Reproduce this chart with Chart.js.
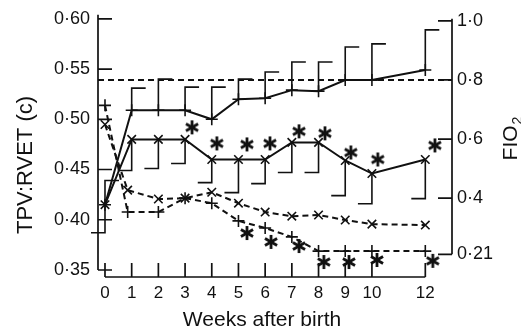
<!DOCTYPE html>
<html lang="en">
<head>
<meta charset="UTF-8" />
<title>TPV:RVET and FiO2 after birth</title>
<style>
  * { margin: 0; padding: 0; box-sizing: border-box; }
  body { background: white; }
  .chartBox { width: 521px; height: 330px; }
</style>
</head>
<body>
<div class="chartBox"><canvas id="myChart" width="521" height="330"></canvas></div>
<script src="https://cdn.jsdelivr.net/npm/chart.js"></script>
<script>
// weeks after birth
const weeks = [0, 1, 2, 3, 4, 5, 6, 7, 8, 9, 10, 12];
// TPV:RVET, solid lines (left axis)
const tpvPlus = [0.415, 0.509, 0.509, 0.509, 0.500, 0.520, 0.521, 0.529, 0.528, 0.539, 0.539, 0.549];
const tpvPlusErr = [0.439, 0.531, 0.540, 0.532, 0.532, 0.540, 0.547, 0.557, 0.557, 0.572, 0.575, 0.589];
const tpvCross = [0.415, 0.480, 0.480, 0.480, 0.460, 0.460, 0.460, 0.477, 0.477, 0.459, 0.446, 0.460];
const tpvCrossErr = [0.387, 0.449, 0.451, 0.456, 0.437, 0.427, 0.436, 0.447, 0.447, 0.424, 0.416, 0.421];
// FiO2, dashed lines (right axis)
const fioWeeks = [0, 0.85, 2, 3, 4, 5, 6, 7, 8, 9, 10, 12];
const fioPlus = [0.714, 0.353, 0.353, 0.400, 0.383, 0.323, 0.299, 0.269, 0.221, 0.221, 0.221, 0.221];
const fioCross = [0.649, 0.427, 0.397, 0.400, 0.420, 0.383, 0.353, 0.339, 0.343, 0.326, 0.312, 0.309];
const fioRef = 0.8;
// significance stars
const starTopWeeks = [3.26, 4.19, 5.32, 6.18, 7.27, 8.24, 9.21, 10.22, 12.36];
const starTop = [0.492, 0.476, 0.475, 0.476, 0.488, 0.486, 0.467, 0.460, 0.474];
const starBottomWeeks = [5.32, 6.22, 7.27, 8.2, 9.14, 10.19, 12.28];
const starBottom = [0.282, 0.252, 0.238, 0.184, 0.184, 0.191, 0.188];
// ticks
const xTicks = [0, 1, 2, 3, 4, 5, 6, 7, 8, 9, 10, 12];
const leftTicks = [0.35, 0.40, 0.45, 0.50, 0.55, 0.60];
const rightTicks = [1.0, 0.8, 0.6, 0.4, 0.21];
const rightLabels = ["1·0", "0·8", "0·6", "0·4", "0·21"];

const ink = "#111";
const face = "'Liberation Sans', Arial, sans-serif";
Chart.defaults.font.family = face;
Chart.defaults.color = ink;

// six-armed asterisk marker
const star = document.createElement("canvas");
star.width = 18; star.height = 18;
(function () {
  const c = star.getContext("2d");
  c.strokeStyle = ink; c.lineWidth = 2.8; c.lineCap = "butt";
  for (let a = 0; a < 3; a++) {
    const t = Math.PI / 2 + a * Math.PI / 3;
    c.beginPath();
    c.moveTo(9 + 7 * Math.cos(t), 9 + 7 * Math.sin(t));
    c.lineTo(9 - 7 * Math.cos(t), 9 - 7 * Math.sin(t));
    c.stroke();
  }
})();

const pts = (xs, ys) => xs.map((x, i) => ({ x: x, y: ys[i] }));
const xMin = -0.262, xMax = 13.0;

const errorBars = {
  id: "errorBars",
  afterDatasetsDraw(chart) {
    const { ctx, scales: { x, y } } = chart;
    ctx.save();
    ctx.strokeStyle = ink;
    ctx.lineWidth = 1.6;
    weeks.forEach((w, i) => {
      const px = x.getPixelForValue(w);
      let y0 = y.getPixelForValue(tpvPlus[i]);
      let y1 = y.getPixelForValue(tpvPlusErr[i]);
      ctx.beginPath();
      ctx.moveTo(px, y0); ctx.lineTo(px, y1); ctx.lineTo(px + 14, y1);
      ctx.stroke();
      y0 = y.getPixelForValue(tpvCross[i]);
      y1 = y.getPixelForValue(tpvCrossErr[i]);
      ctx.beginPath();
      ctx.moveTo(px, y0); ctx.lineTo(px, y1); ctx.lineTo(px - 14, y1);
      ctx.stroke();
    });
    ctx.restore();
  },
};

const axesFrame = {
  id: "axesFrame",
  afterDraw(chart) {
    const { ctx, chartArea, scales: { x, y, yR } } = chart;
    ctx.save();
    ctx.strokeStyle = ink;
    ctx.lineWidth = 1.7;
    // left axis
    const lx = chartArea.left;
    ctx.beginPath();
    ctx.moveTo(lx, y.getPixelForValue(0.60) - 4);
    ctx.lineTo(lx, y.getPixelForValue(0.35));
    leftTicks.forEach((v) => {
      const py = y.getPixelForValue(v);
      ctx.moveTo(lx, py); ctx.lineTo(lx + 14, py);
    });
    // right axis
    const rx = chartArea.right;
    ctx.moveTo(rx, yR.getPixelForValue(rightTicks[0]) - 2);
    ctx.lineTo(rx, yR.getPixelForValue(rightTicks[rightTicks.length - 1]));
    rightTicks.forEach((v) => {
      const py = yR.getPixelForValue(v);
      ctx.moveTo(rx, py); ctx.lineTo(rx - 14, py);
    });
    // bottom axis
    const by = chartArea.bottom + 7;
    ctx.moveTo(x.getPixelForValue(xTicks[0]), by);
    ctx.lineTo(x.getPixelForValue(xTicks[xTicks.length - 1]), by);
    xTicks.forEach((v) => {
      const px = x.getPixelForValue(v);
      ctx.moveTo(px, by); ctx.lineTo(px, by - 14);
    });
    ctx.stroke();

    // titles
    ctx.fillStyle = ink;
    ctx.textAlign = "center";
    ctx.textBaseline = "middle";
    ctx.font = "21px " + face;
    ctx.fillText("Weeks after birth", 262, 320);
    ctx.save();
    ctx.translate(26, 165);
    ctx.rotate(-Math.PI / 2);
    ctx.font = "22px " + face;
    ctx.fillText("TPV:RVET (c)", 0, 0);
    ctx.restore();
    ctx.save();
    ctx.translate(511, 139);
    ctx.rotate(-Math.PI / 2);
    ctx.textAlign = "left";
    ctx.font = "21px " + face;
    const w1 = ctx.measureText("FIO").width;
    ctx.font = "14px " + face;
    const w2 = ctx.measureText("2").width;
    const sx = -(w1 + w2) / 2;
    ctx.font = "21px " + face;
    ctx.fillText("FIO", sx, 0);
    ctx.font = "14px " + face;
    ctx.fillText("2", sx + w1 + 1, 7);
    ctx.restore();
    ctx.restore();
  },
};

const lineSet = (label, data, axis, style, dashed) => ({
  label: label,
  data: data,
  yAxisID: axis,
  borderColor: ink,
  backgroundColor: ink,
  borderWidth: 2,
  borderDash: dashed ? [6, 4] : [],
  pointStyle: style,
  pointRadius: 6,
  pointBorderWidth: 1.6,
  pointBorderColor: ink,
  tension: 0,
});

const starSet = (data, axis) => ({
  label: "p",
  data: data,
  yAxisID: axis,
  showLine: false,
  pointStyle: star,
  pointRadius: 9,
});

const ctx = document.getElementById("myChart");
new Chart(ctx, {
  type: "line",
  data: {
    datasets: [
      {
        label: "ref",
        data: [{ x: xMin, y: fioRef }, { x: xMax, y: fioRef }],
        yAxisID: "yR",
        borderColor: ink,
        borderWidth: 2,
        borderDash: [6, 4],
        pointRadius: 0,
      },
      lineSet("TPV +", pts(weeks, tpvPlus), "y", "cross", false),
      lineSet("TPV x", pts(weeks, tpvCross), "y", "crossRot", false),
      lineSet("FiO2 +", pts(fioWeeks, fioPlus), "yR", "cross", true),
      lineSet("FiO2 x", pts(fioWeeks, fioCross), "yR", "crossRot", true),
      starSet(pts(starTopWeeks, starTop), "y"),
      starSet(pts(starBottomWeeks, starBottom), "yR"),
    ],
  },
  options: {
    responsive: false,
    animation: false,
    layout: { padding: { top: 18, left: 0, right: 0, bottom: 0 } },
    plugins: { legend: { display: false }, tooltip: { enabled: false } },
    scales: {
      x: {
        type: "linear",
        min: xMin,
        max: xMax,
        grid: { display: false, drawTicks: false },
        border: { display: false },
        afterBuildTicks: (s) => { s.ticks = xTicks.map((v) => ({ value: v })); },
        afterFit: (s) => { s.height = 60; },
        ticks: { font: { size: 17 }, padding: 13, maxRotation: 0, autoSkip: false },
      },
      y: {
        position: "left",
        min: 0.35,
        max: 0.60,
        grid: { display: false, drawTicks: false },
        border: { display: false },
        afterBuildTicks: (s) => { s.ticks = leftTicks.map((v) => ({ value: v })); },
        afterFit: (s) => { s.width = 98; },
        ticks: {
          font: { size: 18 },
          padding: 8,
          callback: (v) => v.toFixed(2).replace(".", "·"),
        },
      },
      yR: {
        position: "right",
        min: 0.157,
        max: 1.0067,
        grid: { display: false, drawTicks: false },
        border: { display: false },
        afterBuildTicks: (s) => { s.ticks = rightTicks.map((v) => ({ value: v })); },
        afterFit: (s) => { s.width = 69; },
        ticks: {
          font: { size: 18 },
          padding: 5,
          callback: (v) => rightLabels[rightTicks.indexOf(v)],
        },
      },
    },
  },
  plugins: [errorBars, axesFrame],
});
</script>
</body>
</html>
